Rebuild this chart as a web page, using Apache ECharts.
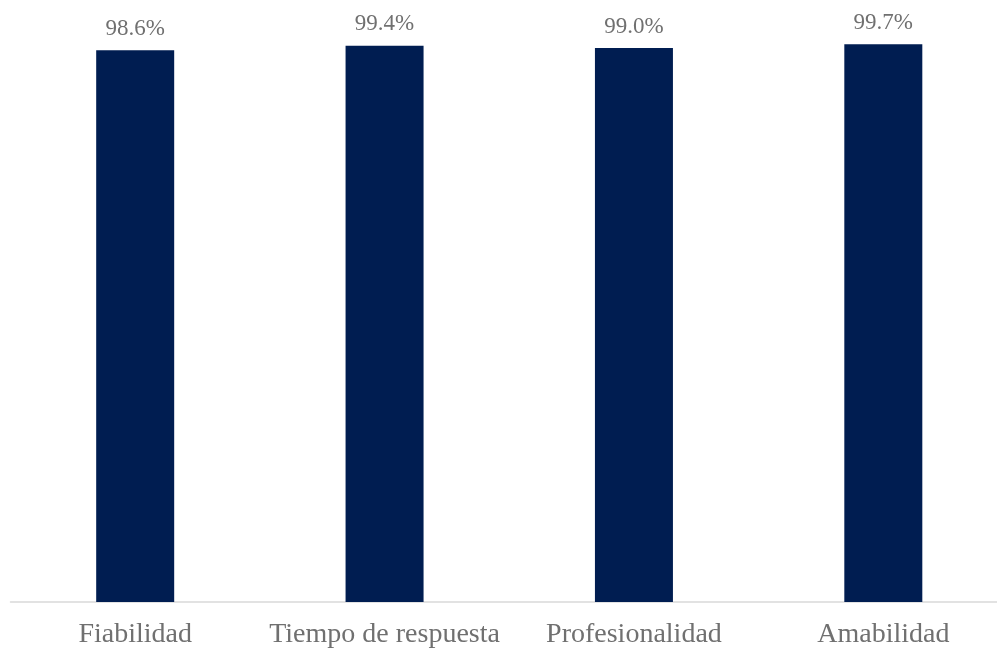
<!DOCTYPE html>
<html><head><meta charset="utf-8">
<script src="https://cdn.jsdelivr.net/npm/echarts@6/dist/echarts.min.js"></script>
<style>html,body{margin:0;padding:0;background:#fff}#c{width:997px;height:648px}</style>
</head><body><div id="c"></div>
<script>
const categories = ["Fiabilidad", "Tiempo de respuesta", "Profesionalidad", "Amabilidad"];
const values = [98.6, 99.4, 99.0, 99.7];

const chart = echarts.init(document.getElementById('c'), null, {renderer: 'canvas'});
chart.setOption({
  animation: false,
  grid: {left: 10.5, right: -11, top: 42.5, bottom: 46, containLabel: false, outerBoundsMode: 'none'},
  xAxis: {
    type: 'category', data: categories,
    axisLine: {lineStyle: {color: '#D9D9D9', width: 1.5}},
    axisTick: {show: false},
    axisLabel: {fontFamily: 'Liberation Serif', fontSize: 28, color: '#707070', margin: 19, interval: 0}
  },
  yAxis: {type: 'value', min: 0, max: 100, show: false, splitLine: {show: false}},
  series: [{
    type: 'bar', data: values, barWidth: 78,
    itemStyle: {color: '#001D51'},
    label: {show: true, position: 'top', distance: 10, fontFamily: 'Liberation Serif', fontSize: 23, color: '#707070',
      formatter: p => p.value.toFixed(1) + '%'}
  }]
});
</script></body></html>
